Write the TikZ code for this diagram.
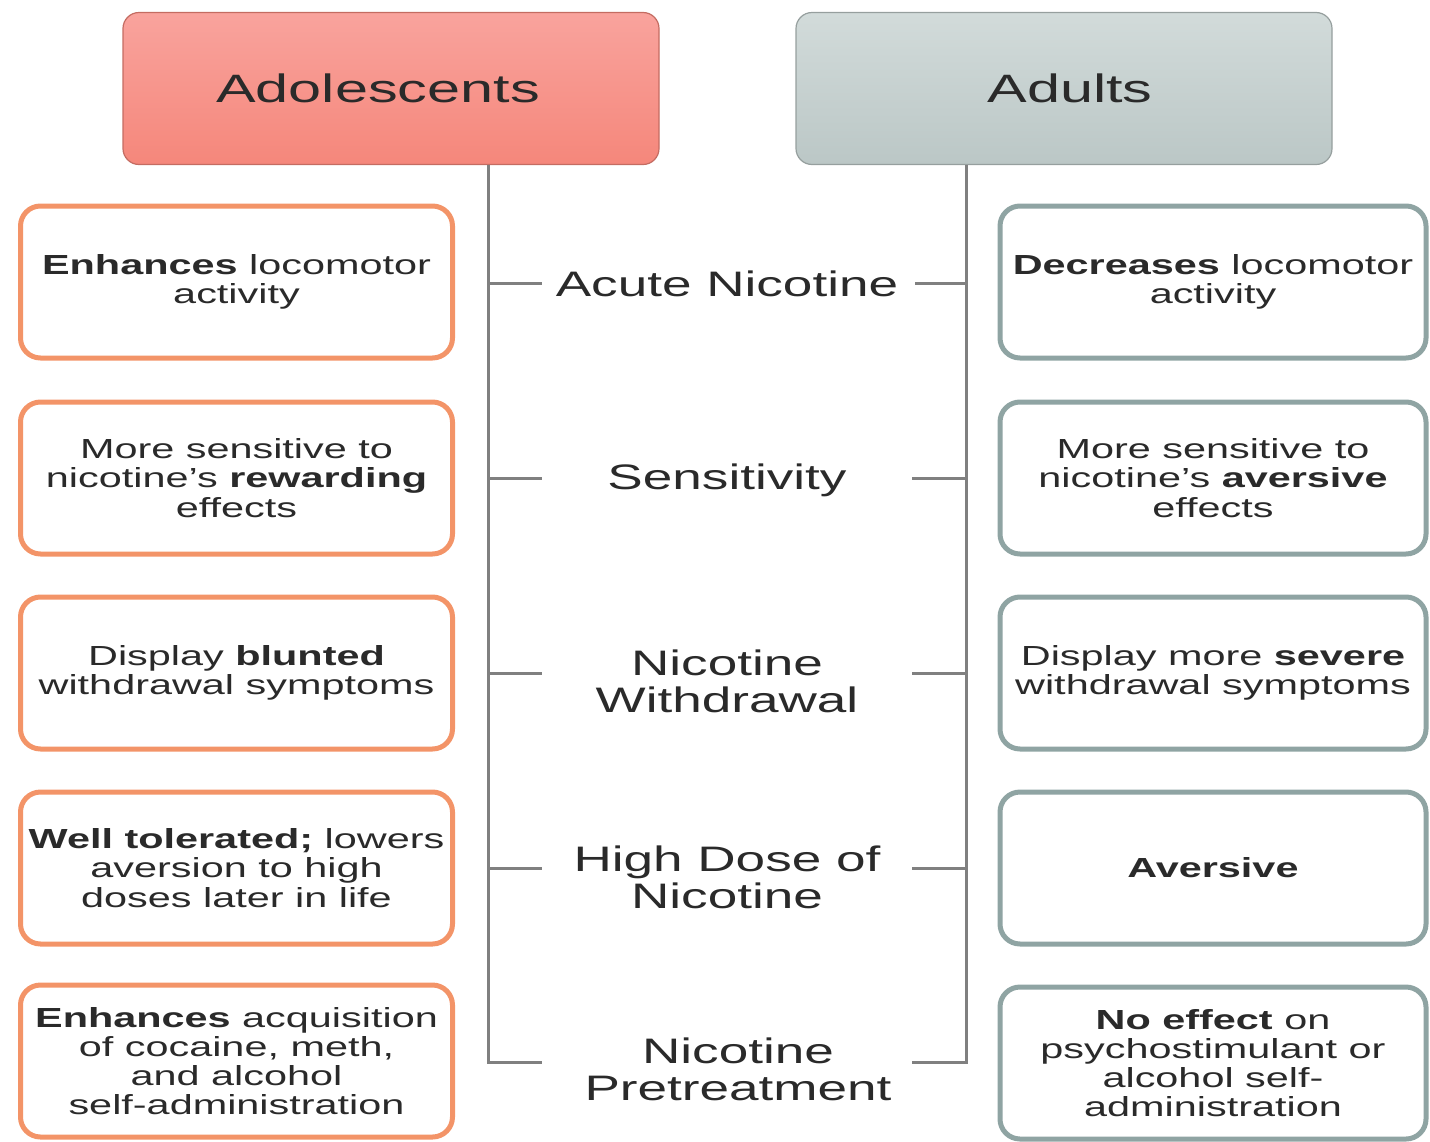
\documentclass[tikz,border=0pt]{standalone}
\usepackage{fontspec}
\setmainfont{Liberation Sans}[FakeStretch=1.5]
\definecolor{adofillA}{HTML}{F9A39D}
\definecolor{adofillB}{HTML}{F5877B}
\definecolor{adufillA}{HTML}{D2DBDA}
\definecolor{adufillB}{HTML}{BBC7C6}
\definecolor{adoedge}{HTML}{F39468}
\definecolor{aduedge}{HTML}{8FA4A3}
\definecolor{stemgray}{HTML}{808080}
\definecolor{txt}{HTML}{2A2A2A}
\tikzset{
  header/.style={rounded corners=8pt, minimum width=268pt, minimum height=76pt,
    draw=#1, line width=0.6pt, text=txt, font=\fontsize{19.8}{22}\selectfont},
  adobox/.style={draw=adoedge, line width=2.5pt, rounded corners=10pt, fill=white,
    minimum width=216pt, minimum height=76pt, align=center, text=txt,
    font=\fontsize{13.8}{14.6}\selectfont},
  adubox/.style={draw=aduedge, line width=2.5pt, rounded corners=10pt, fill=white,
    minimum width=213pt, minimum height=76pt, align=center, text=txt,
    font=\fontsize{13.8}{14.6}\selectfont},
  midlabel/.style={align=center, text=txt, font=\fontsize{17.7}{18.5}\selectfont},
  stem/.style={draw=stemgray, line width=1.5pt},
  tick/.style={draw=stemgray, line width=1.5pt}
}
\begin{document}
\begin{tikzpicture}[x=0.5pt,y=-0.5pt]
\useasboundingbox (0,0) rectangle (1430,1141);
% headers
\node[header=adofillB!80!black, top color=adofillA, bottom color=adofillB] (ado) at (391,88.5) {\hspace*{-13pt}Adolescents};
\node[header=adufillB!80!black, top color=adufillA, bottom color=adufillB] (adu) at (1064,88.5) {\hspace{6pt}Adults};
% stems
\coordinate (ltop) at (488,165);
\coordinate (lbot) at (488,1062);
\coordinate (rtop) at (966,165);
\coordinate (rbot) at (966,1062);
% middle labels
\node[midlabel] (m1) at (727,284) {Acute Nicotine};
\node[midlabel] (m2) at (727,480) {Sensitivity};
\node[midlabel] (m3) at (727,681) {Nicotine\\Withdrawal};
\node[midlabel] (m4) at (727,877) {High Dose of\\Nicotine};
\node[midlabel] (m5) at (738,1069) {Nicotine\\Pretreatment};
% tick coordinates
\foreach \i/\y/\r in {1/283/915,2/478/912,3/673/912,4/868/912,5/1062/912}{
  \coordinate (la\i) at (488,\y);
  \coordinate (lb\i) at (542,\y);
  \coordinate (ra\i) at (\r,\y);
  \coordinate (rb\i) at (966,\y);
}
\draw[stem] (ltop) -- (lbot) -- (lb5);
\draw[stem] (rtop) -- (rbot) -- (ra5);
\foreach \i in {1,2,3,4}{
  \draw[tick] (la\i) -- (lb\i);
  \draw[tick] (ra\i) -- (rb\i);
}
% left boxes
\node[adobox] (l1) at (236.5,282) {\textbf{Enhances} locomotor\\activity};
\node[adobox] (l2) at (236.5,478) {More sensitive to\\nicotine's \textbf{rewarding}\\effects};
\node[adobox] (l3) at (236.5,673) {Display \textbf{blunted}\\withdrawal symptoms};
\node[adobox] (l4) at (236.5,868) {\textbf{Well tolerated;} lowers\\aversion to high\\doses later in life};
\node[adobox] (l5) at (236.5,1061) {\textbf{Enhances} acquisition\\of cocaine, meth,\\and alcohol\\self-administration};
% right boxes
\node[adubox] (r1) at (1213,282) {\textbf{Decreases} locomotor\\activity};
\node[adubox] (r2) at (1213,478) {More sensitive to\\nicotine's \textbf{aversive}\\effects};
\node[adubox] (r3) at (1213,673) {Display more \textbf{severe}\\withdrawal symptoms};
\node[adubox] (r4) at (1213,868) {\textbf{Aversive}};
\node[adubox] (r5) at (1213,1063) {\textbf{No effect} on\\psychostimulant or\\alcohol self-\\administration};
\end{tikzpicture}
\end{document}
